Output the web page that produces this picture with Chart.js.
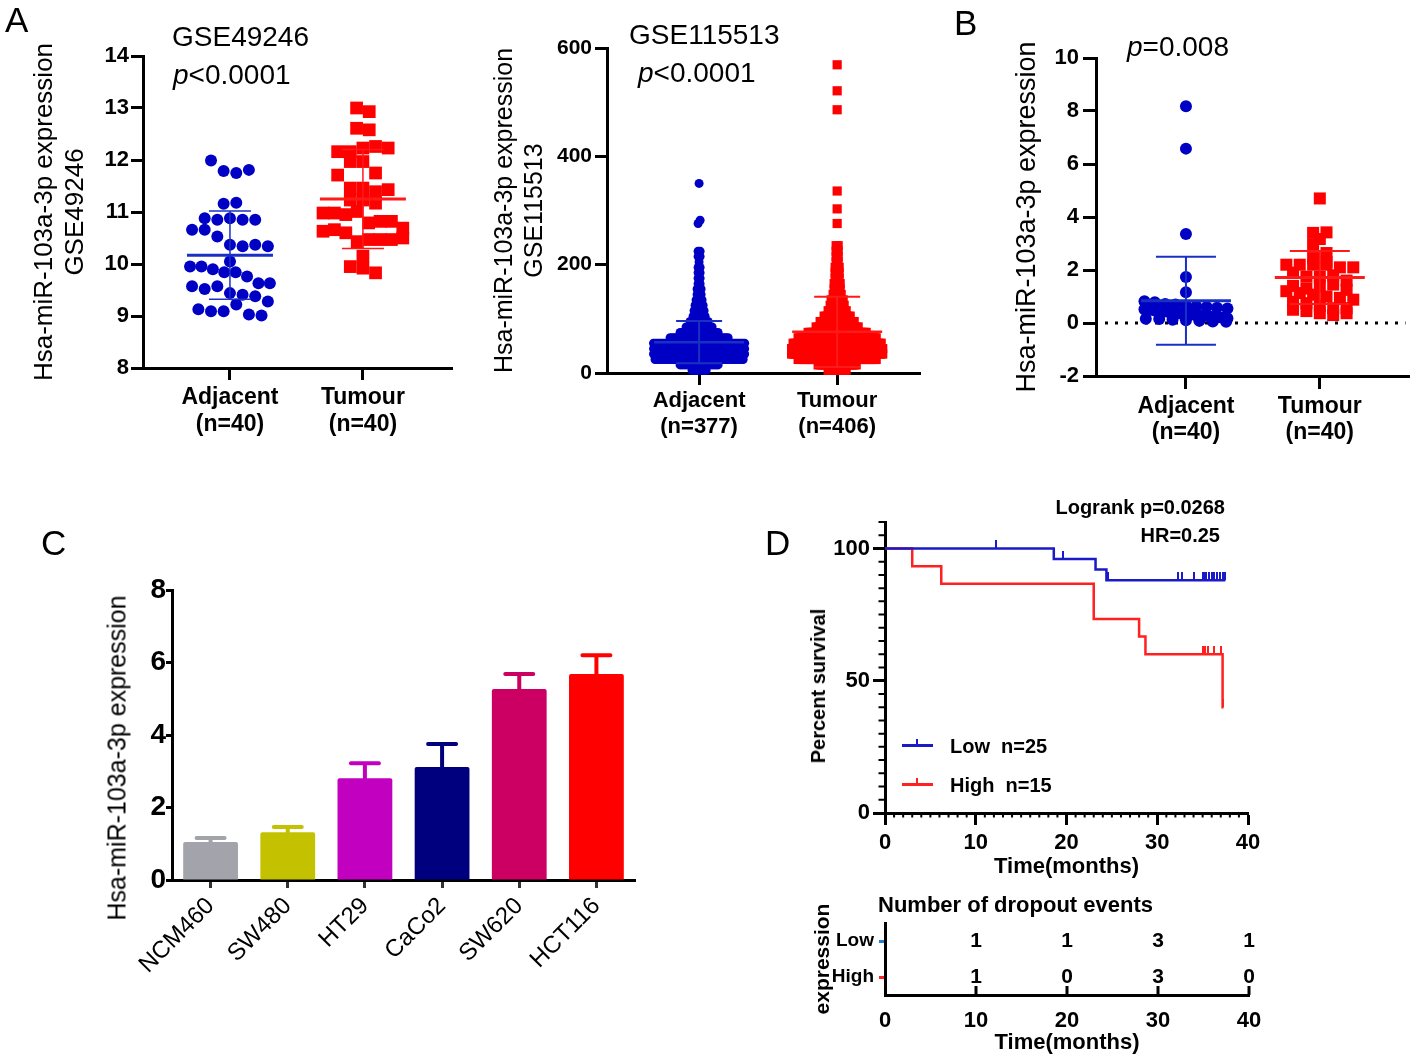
<!DOCTYPE html>
<html>
<head>
<meta charset="utf-8">
<script src="https://cdn.jsdelivr.net/npm/chart.js@4.4.1/dist/chart.umd.min.js"></script>
<style>
  body { margin: 0; background: #fff; width: 1418px; height: 1063px; position: relative; overflow: hidden;
         font-family: "Liberation Sans", Arial, Helvetica, sans-serif; }
  .box { position: absolute; }
  .t { position: absolute; white-space: nowrap; line-height: 1; color: #000; }
  .b { font-weight: bold; }
  .rot { transform: translate(-50%, -50%) rotate(-90deg); }
  .seg { position: absolute; height: 3px; }
</style>
</head>
<body>

<div class="box" style="left:0;top:0;width:470px;height:450px"><canvas id="chartA1"></canvas></div>
<div class="box" style="left:480px;top:0;width:450px;height:450px"><canvas id="chartA2"></canvas></div>
<div class="box" style="left:940px;top:0;width:478px;height:460px"><canvas id="chartB"></canvas></div>
<div class="box" style="left:0;top:560px;width:660px;height:420px"><canvas id="chartC"></canvas></div>
<div class="box" style="left:780px;top:480px;width:500px;height:400px"><canvas id="chartD"></canvas></div>
<div class="box" style="left:780px;top:880px;width:500px;height:183px"><canvas id="chartD2"></canvas></div>

<!-- panel letters and notes -->
<div class="t" style="left:5px;top:2px;font-size:35px">A</div>
<div class="t" style="left:172px;top:23px;font-size:28px">GSE49246</div>
<div class="t" style="left:173px;top:61px;font-size:28px"><i>p</i>&lt;0.0001</div>
<div class="t" style="left:629px;top:21px;font-size:28px">GSE115513</div>
<div class="t" style="left:638px;top:59px;font-size:28px"><i>p</i>&lt;0.0001</div>
<div class="t" style="left:954px;top:5px;font-size:35px">B</div>
<div class="t" style="left:1127px;top:33px;font-size:28px"><i>p</i>=0.008</div>
<div class="t" style="left:41px;top:525px;font-size:35px">C</div>
<div class="t" style="left:765px;top:525px;font-size:35px">D</div>

<div class="t rot" style="left:117px;top:758px;font-size:25px">Hsa-miR-103a-3p expression</div>
<div class="t rot b" style="left:818px;top:686px;font-size:20px">Percent survival</div>

<div class="t b" style="right:193px;top:497px;font-size:20px">Logrank p=0.0268</div>
<div class="t b" style="right:198px;top:525px;font-size:20px">HR=0.25</div>

<div class="seg" style="left:902px;top:744px;width:31px;background:#1A1AC8"></div>
<div class="seg" style="left:916px;top:739px;width:2px;height:6px;background:#1A1AC8"></div>
<div class="t b" style="left:950px;top:736px;font-size:20px">Low&nbsp;&nbsp;n=25</div>
<div class="seg" style="left:902px;top:783px;width:31px;background:#FF2020"></div>
<div class="seg" style="left:916px;top:778px;width:2px;height:6px;background:#FF2020"></div>
<div class="t b" style="left:950px;top:775px;font-size:20px">High&nbsp;&nbsp;n=15</div>

<div class="t b" style="left:878px;top:894px;font-size:22px">Number of dropout events</div>

<script>
// ---------------- data ----------------
// A: GSE49246
const groups49246 = [['Adjacent', '(n=40)'], ['Tumour', '(n=40)']];
const adjacent49246 = [11.99, 11.79, 11.75, 11.81, 11.16, 11.18, 10.88, 10.85, 10.88, 10.85,
  10.85, 10.66, 10.66, 10.53, 10.37, 10.34, 10.37, 10.34, 9.95, 9.95,
  10.05, 9.9, 9.84, 9.84, 9.76, 9.63, 9.57, 9.63, 9.52, 9.57,
  9.44, 9.41, 9.38, 9.28, 9.13, 9.09, 9.09, 9.22, 9.03, 9.01];
const tumour49246 = [13.0, 12.93, 12.61, 12.58, 12.16, 12.16, 12.23, 12.26, 12.23, 11.97,
  11.97, 11.75, 11.71, 11.46, 11.46, 11.39, 11.43, 11.23, 11.23, 11.17,
  10.98, 10.98, 10.95, 11.01, 10.79, 10.82, 10.82, 10.63, 10.66, 10.6,
  10.69, 10.43, 10.47, 10.47, 10.47, 10.5, 10.15, 9.95, 9.92, 9.83];
const mean49246 = [10.17, 11.25];
const sd49246 = [0.85, 0.95];

// A: GSE115513, number of samples per 10-unit bin starting at 0, plus the isolated high values
const groups115513 = [['Adjacent', '(n=377)'], ['Tumour', '(n=406)']];
const adjacentCounts115513 = [8, 20, 45, 65, 66, 55, 30, 20, 14, 10, 7, 6, 5, 4, 3, 3, 2, 2, 2, 2, 1, 2, 2];
const adjacentHigh115513 = [276, 282, 350];
const tumourCounts115513 = [10, 20, 40, 53, 53, 45, 40, 30, 22, 18, 14, 10, 8, 7, 5, 4, 4, 3, 3, 3, 2, 2, 2, 2];
const tumourHigh115513 = [276, 303, 336, 486, 521, 569];
const mean115513 = [57, 76];
const sd115513 = [39, 65];

// B: tissue qPCR
const groupsTissue = [['Adjacent', '(n=40)'], ['Tumour', '(n=40)']];
const adjacentTissue = [8.18, 6.58, 3.36, 1.74, 1.16, 0.82, 0.78, 0.72, 0.7, 0.66,
  0.62, 0.6, 0.58, 0.55, 0.52, 0.5, 0.48, 0.45, 0.44, 0.42,
  0.4, 0.38, 0.35, 0.33, 0.32, 0.3, 0.28, 0.27, 0.25, 0.24,
  0.22, 0.2, 0.18, 0.16, 0.15, 0.12, 0.1, 0.08, 0.06, 0.05];
const tumourTissue = [4.7, 3.4, 3.42, 3.17, 2.96, 2.64, 2.45, 2.3, 2.2, 2.2,
  2.2, 2.2, 2.1, 2.1, 1.9, 1.75, 1.75, 1.8, 1.6, 1.4,
  1.3, 1.4, 1.45, 1.2, 1.13, 1.25, 1.07, 1.0, 0.95, 0.8,
  0.75, 0.88, 0.65, 0.56, 0.5, 0.56, 0.45, 0.37, 0.3, 0.37];
const meanTissue = [0.84, 1.72];
const sdTissue = [1.66, 1.0];

// C: cell lines
const cellLines = ['NCM460', 'SW480', 'HT29', 'CaCo2', 'SW620', 'HCT116'];
const cellMean = [1.05, 1.32, 2.81, 3.12, 5.27, 5.68];
const cellErr = [0.11, 0.14, 0.41, 0.63, 0.41, 0.52];

// D: survival
const lowTimes = [0, 18.6, 23.2, 24.4, 37.5];
const lowSurvival = [100, 96, 92, 88, 88];
const lowCensored = [12.2, 19.6, 24.6, 32.3, 32.7, 34.0, 35.0, 35.2, 35.4, 35.7, 36.0, 36.3, 36.6, 36.9, 37.2, 37.5];
const highTimes = [0, 3, 6.2, 23, 28, 28.7, 37.2, 37.3];
const highSurvival = [100, 93.3, 86.7, 73.3, 66.7, 60, 40, 40];
const highCensored = [35.0, 35.3, 35.6, 36.2, 37.0, 37.3];
const dropoutTimes = [10, 20, 30, 40];
const dropoutLow = [1, 1, 3, 1];
const dropoutHigh = [1, 0, 3, 0];

// ---------------- styles ----------------
const BLUE = '#0000C4';
const RED = '#FF0000';
const KM_BLUE = '#1A1AC8';
const KM_RED = '#FF2020';
const barColors = ['#A3A3AB', '#C4C200', '#C200C0', '#00007E', '#CC0062', '#FF0000'];
const FONT = '"Liberation Sans", Arial, Helvetica, sans-serif';

Chart.defaults.font.family = FONT;
Chart.defaults.color = '#000';
Chart.defaults.animation = false;
Chart.defaults.plugins.legend.display = false;
Chart.defaults.plugins.tooltip.enabled = false;

// rows of a dot plot: points with about the same value share a row and are spread sideways
function swarm(values, center, rowH, step, maxHalf) {
  const rows = new Map();
  values.forEach(v => {
    const k = Math.round(v / rowH);
    if (!rows.has(k)) rows.set(k, []);
    rows.get(k).push(v);
  });
  const pts = [];
  rows.forEach(row => {
    const n = row.length;
    const s = n > 1 ? Math.min(step, 2 * maxHalf / (n - 1)) : 0;
    row.forEach((v, i) => pts.push({ x: center + (i - (n - 1) / 2) * s, y: v }));
  });
  return pts;
}

function expandBins(counts, width, extra) {
  const out = [];
  counts.forEach((c, i) => { for (let j = 0; j < c; j++) out.push(i * width + width / 2); });
  return out.concat(extra);
}

const meanSdPlugin = {
  id: 'meanSd',
  afterDatasetsDraw(chart, args, o) {
    const { ctx } = chart;
    const x = chart.scales.x, y = chart.scales.y;
    o.mean.forEach((m, i) => {
      const cx = x.getPixelForValue(i + 1);
      const ym = y.getPixelForValue(m);
      const y1 = y.getPixelForValue(m + o.sd[i]);
      const y2 = y.getPixelForValue(m - o.sd[i]);
      ctx.save();
      ctx.strokeStyle = o.colors[i];
      ctx.lineWidth = o.sdW;
      ctx.beginPath();
      ctx.moveTo(cx, y1); ctx.lineTo(cx, y2);
      ctx.moveTo(cx - o.capHalf, y1); ctx.lineTo(cx + o.capHalf, y1);
      ctx.moveTo(cx - o.capHalf, y2); ctx.lineTo(cx + o.capHalf, y2);
      ctx.stroke();
      ctx.lineWidth = o.meanW;
      ctx.beginPath();
      ctx.moveTo(cx - o.meanHalf, ym); ctx.lineTo(cx + o.meanHalf, ym);
      ctx.stroke();
      ctx.restore();
    });
  }
};

const zeroLinePlugin = {
  id: 'zeroLine',
  beforeDatasetsDraw(chart) {
    const { ctx, chartArea: a } = chart;
    const yy = chart.scales.y.getPixelForValue(0);
    ctx.save();
    ctx.setLineDash([3, 7]);
    ctx.lineWidth = 3;
    ctx.strokeStyle = '#000';
    ctx.beginPath();
    ctx.moveTo(a.left + 9, yy);
    ctx.lineTo(a.right - 4, yy);
    ctx.stroke();
    ctx.restore();
  }
};

function axisGrid(len) {
  return { drawOnChartArea: false, drawTicks: true, tickLength: len, tickWidth: 3, tickColor: '#000' };
}
const axisBorder = { display: true, width: 3, color: '#000' };

function dotPlot(id, o) {
  return new Chart(document.getElementById(id), {
    type: 'scatter',
    data: {
      datasets: [
        { data: swarm(o.adjacent, 1, o.rowH, o.step, o.maxHalf), backgroundColor: BLUE,
          pointStyle: 'circle', pointRadius: o.circleR, pointHoverRadius: o.circleR, borderWidth: 0, clip: false },
        { data: swarm(o.tumour, 2, o.rowH, o.step, o.maxHalf), backgroundColor: RED,
          pointStyle: 'rect', pointRadius: o.rectR, pointHoverRadius: o.rectR, borderWidth: 0, clip: false }
      ]
    },
    options: {
      responsive: true,
      maintainAspectRatio: false,
      events: [],
      layout: { padding: o.padding },
      scales: {
        x: {
          min: o.xMin, max: o.xMax,
          afterBuildTicks: s => { s.ticks = [{ value: 1 }, { value: 2 }]; },
          afterFit: s => { s.height = o.xHeight; },
          ticks: { callback: v => o.groups[v - 1], font: { size: o.labelSize, weight: 'bold', lineHeight: o.labelLH }, padding: o.labelPad },
          grid: axisGrid(o.tick),
          border: axisBorder
        },
        y: {
          min: o.yMin, max: o.yMax,
          afterFit: s => { s.width = o.yWidth; },
          ticks: { stepSize: o.yStep, font: { size: o.tickSize, weight: 'bold' }, padding: o.tickPad },
          grid: axisGrid(o.tick),
          border: axisBorder,
          title: { display: true, text: o.yTitle, font: { size: o.titleSize, lineHeight: 1.2 }, padding: { top: o.titlePad, bottom: 0 } }
        }
      },
      plugins: {
        meanSd: { mean: o.mean, sd: o.sd, colors: ['#1A30C4', '#FF1A1A'], meanW: o.meanW, sdW: o.sdW, meanHalf: o.meanHalf, capHalf: o.capHalf }
      }
    },
    plugins: [meanSdPlugin].concat(o.extra || [])
  });
}

// A, GSE49246
dotPlot('chartA1', {
  adjacent: adjacent49246, tumour: tumour49246, mean: mean49246, sd: sd49246, groups: groups49246,
  rowH: 0.35, step: 0.095, maxHalf: 0.3, circleR: 6, rectR: 9,
  xMin: 0.346, xMax: 2.67, yMin: 8, yMax: 14, yStep: 1,
  padding: { top: 56, right: 18, left: 0, bottom: 0 }, yWidth: 143, xHeight: 82,
  tick: 12, tickSize: 22, tickPad: 2, labelSize: 23, labelLH: 1.17, labelPad: 4.5,
  yTitle: ['Hsa-miR-103a-3p expression', 'GSE49246'], titleSize: 26, titlePad: 29.4,
  meanW: 3, sdW: 1.5, meanHalf: 43, capHalf: 21
});

// A, GSE115513
dotPlot('chartA2', {
  adjacent: expandBins(adjacentCounts115513, 10, adjacentHigh115513),
  tumour: expandBins(tumourCounts115513, 10, tumourHigh115513),
  mean: mean115513, sd: sd115513, groups: groups115513,
  rowH: 10, step: 0.0145, maxHalf: 0.33, circleR: 4.5, rectR: 6.5,
  xMin: 0.333, xMax: 2.6, yMin: 0, yMax: 600, yStep: 200,
  padding: { top: 48, right: 10, left: 0, bottom: 0 }, yWidth: 127, xHeight: 77,
  tick: 12, tickSize: 21, tickPad: 3, labelSize: 22, labelLH: 1.18, labelPad: 3,
  yTitle: ['Hsa-miR-103a-3p expression', 'GSE115513'], titleSize: 25, titlePad: 10,
  meanW: 2.5, sdW: 2, meanHalf: 45, capHalf: 23
});

// B
dotPlot('chartB', {
  adjacent: adjacentTissue, tumour: tumourTissue, mean: meanTissue, sd: sdTissue, groups: groupsTissue,
  rowH: 0.35, step: 0.1, maxHalf: 0.31, circleR: 6, rectR: 8.5,
  xMin: 0.328, xMax: 2.67, yMin: -2, yMax: 10, yStep: 2,
  padding: { top: 58, right: 8, left: 0, bottom: 0 }, yWidth: 156, xHeight: 84,
  tick: 13, tickSize: 22, tickPad: 4, labelSize: 23, labelLH: 1.1, labelPad: 5.3,
  yTitle: 'Hsa-miR-103a-3p expression', titleSize: 27, titlePad: 71.8,
  meanW: 3, sdW: 2, meanHalf: 45, capHalf: 30,
  extra: [zeroLinePlugin]
});

// C
const errorBarPlugin = {
  id: 'errorBars',
  afterDatasetsDraw(chart, args, o) {
    const { ctx } = chart;
    const y = chart.scales.y;
    const ds = chart.data.datasets[0];
    chart.getDatasetMeta(0).data.forEach((bar, i) => {
      const top = y.getPixelForValue(ds.data[i] + o.errors[i]);
      ctx.save();
      ctx.strokeStyle = ds.backgroundColor[i];
      ctx.lineWidth = 4;
      ctx.lineCap = 'round';
      ctx.beginPath();
      ctx.moveTo(bar.x, bar.y);
      ctx.lineTo(bar.x, top);
      ctx.moveTo(bar.x - 14, top);
      ctx.lineTo(bar.x + 14, top);
      ctx.stroke();
      ctx.restore();
    });
  }
};

new Chart(document.getElementById('chartC'), {
  type: 'bar',
  data: {
    labels: cellLines,
    datasets: [{ data: cellMean, backgroundColor: barColors, barPercentage: 0.71, categoryPercentage: 1, borderRadius: 2, borderSkipped: 'bottom' }]
  },
  options: {
    responsive: true,
    maintainAspectRatio: false,
    events: [],
    layout: { padding: { top: 30, right: 25, left: 0, bottom: 0 } },
    scales: {
      x: {
        afterFit: s => { s.height = 100; },
        grid: { drawOnChartArea: false, offset: false, tickLength: 8, tickWidth: 3, tickColor: '#333' },
        border: axisBorder,
        ticks: { font: { size: 24 }, minRotation: 45, maxRotation: 45, autoSkip: false, padding: 4 }
      },
      y: {
        min: 0, max: 8,
        afterFit: s => { s.width = 172; },
        ticks: { stepSize: 2, font: { size: 28, weight: 'bold' }, padding: 0 },
        grid: axisGrid(6),
        border: axisBorder
      }
    },
    plugins: { errorBars: { errors: cellErr } }
  },
  plugins: [errorBarPlugin]
});

// D, survival curves
function stepPoints(times, surv) {
  return times.map((t, i) => ({ x: t, y: surv[i] }));
}
function survivalAt(times, surv, t) {
  let s = surv[0];
  times.forEach((tt, i) => { if (tt <= t) s = surv[i]; });
  return s;
}
function censorMark(color) {
  const c = document.createElement('canvas');
  c.width = 2; c.height = 16;
  const g = c.getContext('2d');
  g.fillStyle = color;
  g.fillRect(0, 0, 2, 8);
  return c;
}

const minorTickPlugin = {
  id: 'minorTicks',
  afterDraw(chart, args, o) {
    const { ctx, chartArea: a, scales: { x, y } } = chart;
    ctx.save();
    ctx.strokeStyle = '#000';
    ctx.lineWidth = 2;
    ctx.beginPath();
    for (let v = o.yStep; v <= y.max; v += o.yStep) {
      if (v % o.yMajor === 0) continue;
      const p = y.getPixelForValue(v);
      ctx.moveTo(a.left - 1.5 - o.yLen, p); ctx.lineTo(a.left, p);
    }
    for (let v = o.xStep; v < x.max; v += o.xStep) {
      if (v % o.xMajor === 0) continue;
      const p = x.getPixelForValue(v);
      ctx.moveTo(p, a.bottom); ctx.lineTo(p, a.bottom + 1.5 + o.xLen);
    }
    ctx.stroke();
    ctx.restore();
  }
};

new Chart(document.getElementById('chartD'), {
  type: 'line',
  data: {
    datasets: [
      { label: 'Low', data: stepPoints(lowTimes, lowSurvival), borderColor: KM_BLUE, borderWidth: 2.5, stepped: true, pointRadius: 0, fill: false },
      { label: 'High', data: stepPoints(highTimes, highSurvival), borderColor: KM_RED, borderWidth: 2.5, stepped: true, pointRadius: 0, fill: false },
      { data: lowCensored.map(t => ({ x: t, y: survivalAt(lowTimes, lowSurvival, t) })), showLine: false, pointStyle: censorMark(KM_BLUE), pointRadius: 4 },
      { data: highCensored.map(t => ({ x: t, y: survivalAt(highTimes, highSurvival, t) })), showLine: false, pointStyle: censorMark(KM_RED), pointRadius: 4 }
    ]
  },
  options: {
    responsive: true,
    maintainAspectRatio: false,
    events: [],
    layout: { padding: { top: 42, right: 32, left: 0, bottom: 0 } },
    scales: {
      x: {
        type: 'linear', min: 0, max: 40,
        afterFit: s => { s.height = 67; },
        ticks: { stepSize: 10, font: { size: 22, weight: 'bold' }, padding: 5 },
        grid: axisGrid(12),
        border: axisBorder,
        title: { display: true, text: 'Time(months)', font: { size: 22, weight: 'bold', lineHeight: 1.2 }, padding: { top: 0, bottom: 0 } }
      },
      y: {
        min: 0, max: 110,
        afterBuildTicks: s => { s.ticks = [{ value: 0 }, { value: 50 }, { value: 100 }]; },
        afterFit: s => { s.width = 105; },
        ticks: { font: { size: 22, weight: 'bold' }, padding: 3 },
        grid: axisGrid(12),
        border: axisBorder
      }
    },
    plugins: { minorTicks: { yStep: 5, yMajor: 50, yLen: 5, xStep: 1, xMajor: 10, xLen: 3 } }
  },
  plugins: [minorTickPlugin]
});

// D, dropout table
const countLabelPlugin = {
  id: 'countLabels',
  afterDatasetsDraw(chart) {
    const { ctx, chartArea: a } = chart;
    const x = chart.scales.x;
    ctx.save();
    // inward ticks on the time axis
    ctx.strokeStyle = '#000';
    ctx.lineWidth = 3;
    ctx.beginPath();
    dropoutTimes.forEach(t => {
      const p = x.getPixelForValue(t);
      ctx.moveTo(p, a.bottom); ctx.lineTo(p, a.bottom - 9);
    });
    ctx.stroke();
    ctx.font = 'bold 21px ' + FONT;
    ctx.fillStyle = '#000';
    ctx.textAlign = 'center';
    ctx.textBaseline = 'middle';
    chart.data.datasets.forEach((ds, di) => {
      chart.getDatasetMeta(di).data.forEach((pt, i) => {
        ctx.fillText(String(ds.data[i].n), pt.x, pt.y);
      });
    });
    ctx.restore();
  }
};

new Chart(document.getElementById('chartD2'), {
  type: 'scatter',
  data: {
    datasets: [
      { data: dropoutTimes.map((t, i) => ({ x: t, y: 'Low', n: dropoutLow[i] })), pointRadius: 0 },
      { data: dropoutTimes.map((t, i) => ({ x: t, y: 'High', n: dropoutHigh[i] })), pointRadius: 0 }
    ]
  },
  options: {
    responsive: true,
    maintainAspectRatio: false,
    events: [],
    layout: { padding: { top: 43, right: 31, left: 0, bottom: 0 } },
    scales: {
      x: {
        type: 'linear', min: 0, max: 40,
        afterFit: s => { s.height = 68; },
        ticks: { stepSize: 10, font: { size: 22, weight: 'bold' }, padding: 13 },
        grid: { drawOnChartArea: false, drawTicks: false },
        border: axisBorder,
        title: { display: true, text: 'Time(months)', font: { size: 22, weight: 'bold', lineHeight: 1.2 }, padding: { top: 0, bottom: 6.8 } }
      },
      y: {
        type: 'category', labels: ['Low', 'High'], offset: true,
        afterFit: s => { s.width = 105; },
        ticks: { font: { size: 19, weight: 'bold' }, padding: 5 },
        grid: { drawOnChartArea: false, drawTicks: true, tickLength: 6, tickWidth: 3,
                tickColor: c => (c.index === 0 ? '#1E7FD8' : '#FF2020') },
        border: axisBorder,
        title: { display: true, text: 'expression', font: { size: 21, weight: 'bold', lineHeight: 1.2 }, padding: { top: 30.4, bottom: 0 } }
      }
    }
  },
  plugins: [countLabelPlugin]
});
</script>
</body>
</html>
